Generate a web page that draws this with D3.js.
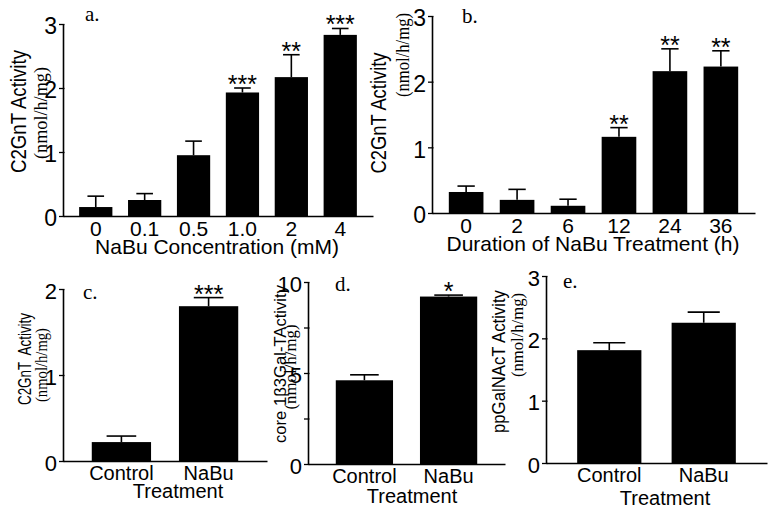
<!DOCTYPE html>
<html>
<head>
<meta charset="utf-8">
<script src="https://cdn.jsdelivr.net/npm/d3@7"></script>
<style>
  html, body { margin: 0; padding: 0; background: #fff; }
  svg { display: block; }
</style>
</head>
<body>
<script>
// ---------------- DATA ----------------
const catsA = ["0", "0.1", "0.5", "1.0", "2", "4"];
const meanA = [0.14, 0.25, 0.95, 1.93, 2.17, 2.83];
const errA  = [0.17, 0.10, 0.22, 0.07, 0.35, 0.10];
const sigA  = ["", "", "", "***", "**", "***"];

const catsB = ["0", "2", "6", "12", "24", "36"];
const meanB = [0.32, 0.20, 0.11, 1.16, 2.16, 2.23];
const errB  = [0.09, 0.16, 0.10, 0.14, 0.34, 0.24];
const sigB  = ["", "", "", "**", "**", "**"];

const catsCDE = ["Control", "NaBu"];
const meanC = [0.22, 1.80];
const errC  = [0.07, 0.10];
const sigC  = ["", "***"];

const meanD = [4.6, 9.2];
const errD  = [0.3, 0.08];
const sigD  = ["", "*"];

const meanE = [1.81, 2.25];
const errE  = [0.12, 0.17];
const sigE  = ["", ""];

const ticks3 = [0, 1, 2, 3];
const ticks2 = [0, 1, 2];
const ticksD = [0, 2.5, 5, 7.5, 10];
const labelsD = ["0", "", "5", "", "10"];

// ---------------- DRAW ----------------
const W = 776, H = 515;
const svg = d3.select("body").append("svg").attr("width", W).attr("height", H);

const SANS = "Liberation Sans, Arial, sans-serif";
const SERIF = "Liberation Serif, Times New Roman, serif";

function drawPanel(p) {
  const g = svg.append("g");
  const x = d3.scaleBand().domain(p.cats).range([p.x0, p.x1])
    .paddingInner(0.32).paddingOuter(0.33);
  const y = d3.scaleLinear().domain([0, p.ymax]).range([p.y0, p.y1]);

  // bars
  g.selectAll("rect.bar").data(p.cats).enter().append("rect")
    .attr("x", d => x(d))
    .attr("y", (d, i) => y(p.mean[i]))
    .attr("width", x.bandwidth())
    .attr("height", (d, i) => y(0) - y(p.mean[i]))
    .attr("fill", "#000");

  // error bars
  const cw = x.bandwidth() * 0.5;
  p.cats.forEach((d, i) => {
    const cx = x(d) + x.bandwidth() / 2;
    const top = y(p.mean[i] + p.err[i]);
    g.append("line").attr("x1", cx).attr("x2", cx)
      .attr("y1", y(p.mean[i])).attr("y2", top)
      .attr("stroke", "#000").attr("stroke-width", 1.6);
    g.append("line").attr("x1", cx - cw / 2).attr("x2", cx + cw / 2)
      .attr("y1", top).attr("y2", top)
      .attr("stroke", "#000").attr("stroke-width", 1.6);
    if (p.sig[i]) {
      g.append("text").attr("x", cx).attr("y", top + 5)
        .attr("text-anchor", "middle")
        .style("font-family", SANS).style("font-size", "25px")
        .text(p.sig[i]);
    }
  });

  // y axis
  const yAxis = d3.axisLeft(y).tickValues(p.yTicks).tickSizeOuter(0).tickSizeInner(4).tickPadding(2)
    .tickFormat((d, i) => p.yLabels ? p.yLabels[i] : d3.format("d")(d));
  const ya = g.append("g").attr("transform", `translate(${p.x0},0)`).call(yAxis);
  ya.select(".domain").attr("stroke", "#000").attr("stroke-width", 1.6);
  ya.selectAll(".tick line").attr("stroke", "#000").attr("stroke-width", 1.3).attr("x1", 1.5);
  ya.selectAll(".tick text").style("font-family", SANS).style("font-size", p.yfs + "px")
    .attr("fill", "#000").attr("dy", "0.42em");

  // x axis
  const xAxis = d3.axisBottom(x).tickSize(0).tickSizeOuter(0).tickPadding(p.xpad);
  const xa = g.append("g").attr("transform", `translate(0,${p.y0})`).call(xAxis);
  xa.select(".domain").attr("stroke", "#000").attr("stroke-width", 1.6);
  xa.selectAll(".tick text").style("font-family", SANS).style("font-size", p.xfs + "px")
    .attr("fill", "#000");

  // x title
  g.append("text").attr("x", p.xt[0]).attr("y", p.xt[1]).attr("text-anchor", "middle")
    .style("font-family", SANS).style("font-size", p.xtfs + "px").text(p.xTitle);

  // y titles
  g.append("text")
    .attr("transform", `translate(${p.t1[0]},${p.t1[1]}) rotate(-90)`)
    .attr("text-anchor", "middle")
    .attr("textLength", p.t1[2]).attr("lengthAdjust", "spacingAndGlyphs")
    .style("font-family", SANS).style("font-size", p.t1[3] + "px")
    .style("white-space", "pre")
    .text(p.title1);
  g.append("text")
    .attr("transform", `translate(${p.t2[0]},${p.t2[1]}) rotate(-90)`)
    .attr("text-anchor", "middle")
    .attr("textLength", p.t2[2]).attr("lengthAdjust", "spacingAndGlyphs")
    .style("font-family", SERIF).style("font-size", p.t2[3] + "px")
    .text(p.title2);

  // panel letter
  g.append("text").attr("x", p.lab[0]).attr("y", p.lab[1])
    .style("font-family", SERIF).style("font-size", "21px").text(p.label);
}

drawPanel({
  cats: catsA, mean: meanA, err: errA, sig: sigA, yTicks: ticks3, ymax: 3,
  x0: 63, x1: 373, y0: 216, y1: 24, xfs: 21, yfs: 23, xpad: 5,
  xTitle: "NaBu Concentration (mM)", xt: [217, 254], xtfs: 21,
  title1: "C2GnT Activity", t1: [26, 111.5, 123, 22],
  title2: "(nmol/h/mg)", t2: [47, 113, 92, 18],
  label: "a.", lab: [85, 21]
});

drawPanel({
  cats: catsB, mean: meanB, err: errB, sig: sigB, yTicks: ticks3, ymax: 3,
  x0: 432, x1: 755, y0: 213, y1: 16, xfs: 21, yfs: 23, xpad: 5,
  xTitle: "Duration of NaBu Treatment (h)", xt: [593, 251], xtfs: 21,
  title1: "C2GnT Activity", t1: [386, 113, 121, 22],
  title2: "(nmol/h/mg)", t2: [409, 55, 84, 18],
  label: "b.", lab: [462, 23]
});

drawPanel({
  cats: catsCDE, mean: meanC, err: errC, sig: sigC, yTicks: ticks2, ymax: 2,
  x0: 63, x1: 267, y0: 461, y1: 289, xfs: 20, yfs: 22, xpad: 5,
  xTitle: "Treatment", xt: [178, 498], xtfs: 20,
  title1: "C2GnT  Activity", t1: [31, 359, 92, 19],
  title2: "(nmol/h/mg)", t2: [47, 365, 74, 16],
  label: "c.", lab: [83, 299]
});

drawPanel({
  cats: catsCDE, mean: meanD, err: errD, sig: sigD, yTicks: ticksD, yLabels: labelsD, ymax: 10,
  x0: 308, x1: 505, y0: 464, y1: 282, xfs: 20, yfs: 22, xpad: 5,
  xTitle: "Treatment", xt: [412, 503], xtfs: 20,
  title1: "core 1\u03b23Gal-TActivity", t1: [286, 364, 158, 17],
  title2: "(nmol/h/mg)", t2: [296, 367, 85, 17],
  label: "d.", lab: [335, 291]
});

drawPanel({
  cats: catsCDE, mean: meanE, err: errE, sig: sigE, yTicks: ticks3, ymax: 3,
  x0: 546, x1: 767, y0: 463, y1: 276, xfs: 20, yfs: 22, xpad: 5,
  xTitle: "Treatment", xt: [665, 505], xtfs: 20,
  title1: "ppGalNAcT Activity", t1: [505, 361.5, 143, 18],
  title2: "(nmol/h/mg)", t2: [523, 335, 84, 17],
  label: "e.", lab: [563, 288]
});
</script>
</body>
</html>
